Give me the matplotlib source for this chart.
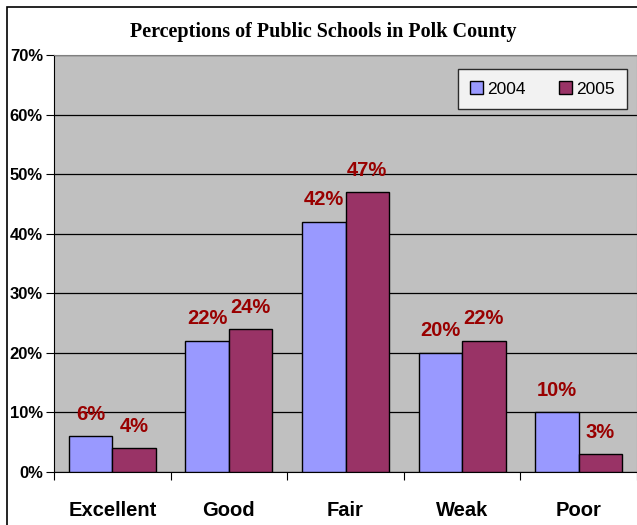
import matplotlib.pyplot as plt
import numpy as np
from matplotlib.patches import Rectangle

# survey results, share of respondents (%)
categories = ["Excellent", "Good", "Fair", "Weak", "Poor"]
years = ["2004", "2005"]
pct_2004 = [6, 22, 42, 20, 10]
pct_2005 = [4, 24, 47, 22, 3]

fig = plt.figure(figsize=(6.37, 5.25), dpi=100)
fig.patch.set_facecolor("white")

# outer chart border
fig.patches.append(Rectangle((7 / 637, -0.05), 1.1, 1 - 7 / 525 + 0.05,
                             transform=fig.transFigure, fill=False,
                             edgecolor="black", linewidth=1.2))

ax = fig.add_axes([54 / 637, 1 - 472 / 525, 1 - 54 / 637, (472 - 55) / 525])
ax.set_facecolor("#C0C0C0")

x = np.arange(len(categories))
w = 0.373
b1 = ax.bar(x - w / 2, pct_2004, w, color="#9999FF", edgecolor="black",
            linewidth=1, label=years[0], zorder=3)
b2 = ax.bar(x + w / 2, pct_2005, w, color="#993366", edgecolor="black",
            linewidth=1, label=years[1], zorder=3)

for bars, vals in ((b1, pct_2004), (b2, pct_2005)):
    for bar, v in zip(bars, vals):
        ax.annotate(f"{v}%", (bar.get_x() + bar.get_width() / 2, v),
                    xytext=(0, 9), textcoords="offset points",
                    ha="center", va="bottom", color="#990000",
                    fontsize=14.5, fontweight="bold", family="Liberation Sans")

ax.set_xlim(-0.5, len(categories) - 0.5)
ax.set_ylim(0, 70)
ax.set_yticks(range(0, 71, 10))
ax.set_yticklabels([f"{t}%" for t in range(0, 71, 10)],
                   fontsize=12, fontweight="bold", family="Liberation Sans")
ax.yaxis.grid(True, color="black", linewidth=0.9, zorder=0)
ax.set_axisbelow(True)

# category labels sit between boundary ticks
ax.set_xticks(np.arange(-0.5, len(categories), 1))
ax.set_xticklabels([])
ax.set_xticks(x, minor=True)
ax.set_xticklabels(categories, minor=True, fontsize=14.5, fontweight="bold",
                   family="Liberation Sans")
ax.tick_params(axis="x", which="major", length=6, direction="out", color="black")
ax.tick_params(axis="x", which="minor", length=0, pad=21)
ax.tick_params(axis="y", length=6, direction="out", pad=2)

for side in ("top", "right"):
    ax.spines[side].set_color("#808080")
ax.spines["left"].set_color("black")
ax.spines["bottom"].set_color("black")

leg = ax.legend(loc="upper right", bbox_to_anchor=(0.983, 0.966),
                borderaxespad=0, ncol=2, frameon=True, fancybox=False,
                edgecolor="black", handlelength=0.75, handleheight=0.75,
                columnspacing=1.9, borderpad=0.7, handletextpad=0.25,
                prop={"family": "Liberation Sans", "size": 12.5})
leg.get_frame().set_linewidth(1)

fig.text(323 / 637, 1 - 32 / 525, "Perceptions of Public Schools in Polk County",
         ha="center", va="center", fontsize=14.5, fontweight="bold",
         family="Liberation Serif")

plt.savefig("out.png", dpi=100)
